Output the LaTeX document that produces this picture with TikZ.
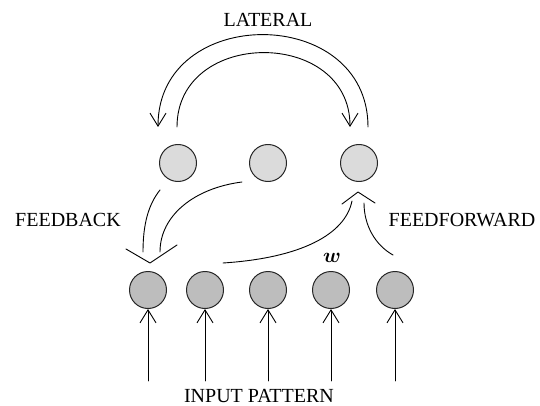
\documentclass[tikz,border=0pt]{standalone}
\usepackage{bm}
\usepackage{fontspec}
\setmainfont{Liberation Serif}
\usetikzlibrary{arrows.meta}
\tikzset{
  unit/.style={circle,draw=black!85,line width=1pt,minimum size=37pt,inner sep=0pt},
  toprow/.style={unit,fill=gray!28},
  botrow/.style={unit,fill=gray!52},
  barb/.style={-{Straight Barb[length=13pt,width=16pt]}},
}
\begin{document}
\begin{tikzpicture}[x=1pt,y=-1pt,line join=round,line cap=round,line width=0.9pt,font=\fontsize{20}{24}\selectfont]
	\useasboundingbox (0,0) rectangle (540,406);
	% the two rows of units
	\foreach \n/\x in {1/178,2/268,3/359}
	\node[toprow] (t\n) at (\x,163) {};
	\foreach \n/\x in {1/148,2/205,3/268,4/331,5/395}
	\node[botrow] (b\n) at (\x,290) {};
	% input lines
	\foreach \n in {1,...,5}{
		\path (b\n.south) ++(0,72) coordinate (in\n);
		\draw[barb] (in\n) -- (b\n.south);
	}
	% lateral arcs
	\path 
	(368,127) coordinate (la)
	(158,127) coordinate (lb)
	(177,127) coordinate (lc)
	(350,127) coordinate (ld);
	\draw[barb] (la) .. controls (368,4) and (158,4) .. (lb);
	\draw[barb] (lc) .. controls (177,28) and (350,28) .. (ld);
	% feedback into the first input unit
	\path 
	(160,190) coordinate (fa)
	(242,182) coordinate (fb)
	(143,252) coordinate (fc)
	(160,252) coordinate (fd)
	(150,263) coordinate (ftip);
	\draw (fa) .. controls (148,205) and (143,225) .. (fc);
	\draw (fb) .. controls (195,188) and (160,215) .. (fd);
	\draw (126,249) -- (ftip) -- (177,245);
	% feedforward into the third output unit
	\path 
	(223,263) coordinate (ga)
	(393,255) coordinate (gb)
	(352,201) coordinate (gc)
	(364,203) coordinate (gd)
	(358,192) coordinate (gtip);
	\draw (ga) .. controls (300,258) and (345,235) .. (gc);
	\draw (gb) .. controls (375,245) and (364,225) .. (gd);
	\draw (342,204) -- (gtip) -- (375,203);
	% labels
	\node (lat) at (268,20) {LATERAL};
	\node (fbk) at (68,220) {FEEDBACK};
	\node (ffw) at (462,220) {FEEDFORWARD};
	\node (inp) at (259,396) {INPUT PATTERN};
	\node (wgt) at (332,258) {$\bm{w}$};
\end{tikzpicture}
\end{document}
